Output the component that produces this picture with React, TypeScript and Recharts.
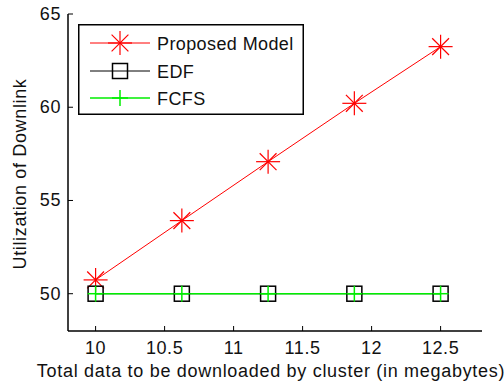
import { LineChart, Line, XAxis, YAxis, Legend } from "recharts";

const sizes = [10, 10.625, 11.25, 11.875, 12.5];
const proposed = [50.74, 53.92, 57.08, 60.21, 63.25];
const edf = [50, 50, 50, 50, 50];
const fcfs = [50, 50, 50, 50, 50];
const seriesNames = ["Proposed Model", "EDF", "FCFS"];
const xTicks = [10, 10.5, 11, 11.5, 12, 12.5];
const yTicks = [50, 55, 60, 65];

const FONT = "'Liberation Sans', Arial, sans-serif";
const SPACING = 0.6;

const data = sizes.map((x, i) => ({
    x,
    proposed: proposed[i],
    edf: edf[i],
    fcfs: fcfs[i],
}));

const StarMark = ({ cx, cy }: any) => {
    const r = 12;
    const d = r * 0.7;
    return (
        <g stroke="#ff0000" strokeWidth={1.2}>
            <line x1={cx - r} y1={cy} x2={cx + r} y2={cy} />
            <line x1={cx} y1={cy - r} x2={cx} y2={cy + r} />
            <line x1={cx - d} y1={cy - d} x2={cx + d} y2={cy + d} />
            <line x1={cx - d} y1={cy + d} x2={cx + d} y2={cy - d} />
        </g>
    );
};

const SquareMark = ({ cx, cy }: any) => (
    <rect x={cx - 7.5} y={cy - 7.5} width={15} height={15} fill="none" stroke="#000" strokeWidth={1.5} />
);

const PlusMark = ({ cx, cy }: any) => (
    <g stroke="#00ee00" strokeWidth={1.5}>
        <line x1={cx - 8} y1={cy} x2={cx + 8} y2={cy} />
        <line x1={cx} y1={cy - 8} x2={cx} y2={cy + 8} />
    </g>
);

const XTick = ({ x, y, payload }: any) => (
    <g>
        <line x1={x} y1={y} x2={x} y2={y - 5} stroke="#000" />
        <text x={x} y={y + 23} textAnchor="middle" fontFamily={FONT} fontSize={18} letterSpacing={SPACING} fill="#111">
            {payload.value}
        </text>
    </g>
);

const YTick = ({ x, y, payload }: any) => (
    <g>
        <line x1={x} y1={y} x2={x + 5} y2={y} stroke="#000" />
        <text x={x - 7} y={y + 6} textAnchor="end" fontFamily={FONT} fontSize={18} letterSpacing={SPACING} fill="#111">
            {payload.value}
        </text>
    </g>
);

const LegendBox = () => {
    const rows = [43, 71, 98].map((v) => v - 24);
    return (
        <svg width={226} height={91} style={{ display: "block" }}>
            <rect x={0.75} y={0.75} width={224.5} height={89.5} fill="#fff" stroke="#000" strokeWidth={1.5} />
            <line x1={12} y1={rows[0]} x2={72} y2={rows[0]} stroke="#ff0000" />
            <StarMark cx={42} cy={rows[0]} />
            <line x1={12} y1={rows[1]} x2={72} y2={rows[1]} stroke="#000" />
            <SquareMark cx={42} cy={rows[1]} />
            <line x1={12} y1={rows[2]} x2={72} y2={rows[2]} stroke="#00ee00" strokeWidth={1.5} />
            <PlusMark cx={42} cy={rows[2]} />
            {seriesNames.map((n, i) => (
                <text key={n} x={79} y={rows[i] + 6.5} fontFamily={FONT} fontSize={18} letterSpacing={0.4} fill="#111">
                    {n}
                </text>
            ))}
        </svg>
    );
};

const App = () => {
    return (
        <div style={{ position: "absolute", left: 0, top: 0, background: "#fff" }}>
            <LineChart
                width={504}
                height={388}
                data={data}
                margin={{ top: 14, right: 22, left: 0, bottom: 0 }}
            >
                <XAxis
                    dataKey="x"
                    type="number"
                    domain={[9.8, 12.8]}
                    ticks={xTicks}
                    height={57}
                    tickLine={false}
                    tickSize={0}
                    tickMargin={0}
                    tick={<XTick />}
                    axisLine={{ stroke: "#000", strokeWidth: 1.5 }}
                    label={{
                        content: () => (
                            <text
                                x={271}
                                y={377}
                                textAnchor="middle"
                                fontFamily={FONT}
                                fontSize={18}
                                letterSpacing={0.7}
                                fill="#111"
                            >
                                Total data to be downloaded by cluster (in megabytes)
                            </text>
                        ),
                    }}
                />
                <YAxis
                    type="number"
                    domain={[48, 65]}
                    ticks={yTicks}
                    width={68}
                    tickLine={false}
                    tickSize={0}
                    tickMargin={0}
                    tick={<YTick />}
                    axisLine={{ stroke: "#000", strokeWidth: 1.5 }}
                    label={{
                        content: () => (
                            <text
                                x={26}
                                y={174}
                                transform="rotate(-90, 26, 174)"
                                textAnchor="middle"
                                fontFamily={FONT}
                                fontSize={18}
                                letterSpacing={0.65}
                                fill="#111"
                            >
                                Utilization of Downlink
                            </text>
                        ),
                    }}
                />
                <Legend
                    layout="horizontal"
                    verticalAlign="middle"
                    align="center"
                    wrapperStyle={{ left: 78, top: 24, width: 226, height: 91 }}
                    content={() => <LegendBox />}
                />
                <Line
                    dataKey="proposed"
                    stroke="#ff0000"
                    strokeWidth={1}
                    isAnimationActive={false}
                    dot={(p: any) => <StarMark key={`s${p.index}`} {...p} />}
                />
                <Line
                    dataKey="edf"
                    stroke="#000"
                    strokeWidth={1}
                    isAnimationActive={false}
                    dot={(p: any) => <SquareMark key={`q${p.index}`} {...p} />}
                />
                <Line
                    dataKey="fcfs"
                    stroke="#00ee00"
                    strokeWidth={1.5}
                    isAnimationActive={false}
                    dot={(p: any) => <PlusMark key={`p${p.index}`} {...p} />}
                />
            </LineChart>
        </div>
    );
};

export default App;
